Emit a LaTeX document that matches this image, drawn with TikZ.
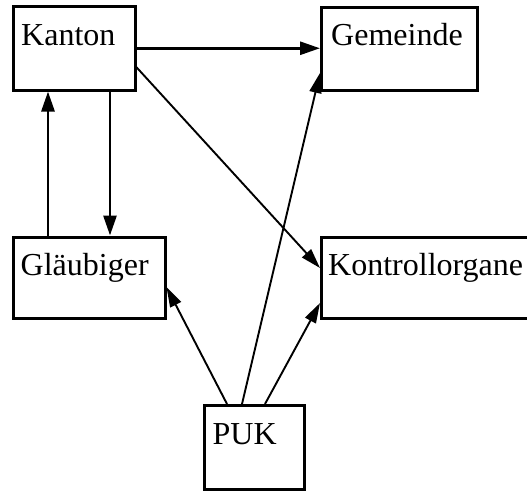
\documentclass[tikz,border=0pt]{standalone}
\usepackage{fontspec}
\setmainfont{Liberation Serif}
\usetikzlibrary{arrows.meta,calc}
\begin{document}
\begin{tikzpicture}[x=1pt,y=-1pt,
  box/.style={draw,line width=3pt,rectangle,inner sep=0pt},
  lbl/.style={anchor=base west,inner sep=0pt,font=\fontsize{32}{32}\selectfont},
  thickarr/.style={line width=2.8pt,-{Triangle[length=20pt,width=13pt]}},
  thinarr/.style={line width=1.9pt,-{Triangle[length=20pt,width=12pt]}}]
\useasboundingbox (0,0) rectangle (527,491);
\node[box,minimum width=121.5pt,minimum height=83.5pt] (kanton) at (74.25,48.25) {};
\node[box,minimum width=155.5pt,minimum height=82.5pt] (gemeinde) at (399.25,48.75) {};
\node[box,minimum width=151.5pt,minimum height=81pt] (glaeubiger) at (89.25,277.5) {};
\node[box,minimum width=213.5pt,minimum height=81pt] (kontroll) at (428.25,277.5) {};
\node[box,minimum width=100pt,minimum height=83.5pt] (puk) at (254.5,447.25) {};
\node[lbl] (tkanton) at ([shift={(9pt,-40pt)}]kanton.north west) {Kanton};
\node[lbl] (tgemeinde) at ([shift={(11pt,-39pt)}]gemeinde.north west) {Gemeinde};
\node[lbl] (tglaeubiger) at ([shift={(8.5pt,-39.5pt)}]glaeubiger.north west) {Gläubiger};
\node[lbl] (tkontroll) at ([shift={(8pt,-39.5pt)}]kontroll.north west) {Kontrollorgane};
\node[lbl] (tpuk) at ([shift={(9.5pt,-40pt)}]puk.north west) {PUK};
\draw[thickarr] (kanton.east) -- (kanton.east -| gemeinde.west);
\draw[thinarr] ([yshift=-19pt]kanton.east) -- ([yshift=9.5pt]kontroll.west);
\draw[thickarr] ([xshift=98pt]kanton.south west) -- ([xshift=98pt]glaeubiger.north west);
\draw[thickarr] ([xshift=36pt]glaeubiger.north west) -- ([xshift=36pt]kanton.south west);
\draw[thinarr] ([xshift=24pt]puk.north west) -- ([yshift=-9.5pt]glaeubiger.east);
\draw[thinarr] ([xshift=39pt]puk.north west) -- ([yshift=18.5pt]gemeinde.south west);
\draw[thinarr] ([xshift=62pt]puk.north west) -- ([yshift=-25.5pt]kontroll.west);
\end{tikzpicture}
\end{document}
